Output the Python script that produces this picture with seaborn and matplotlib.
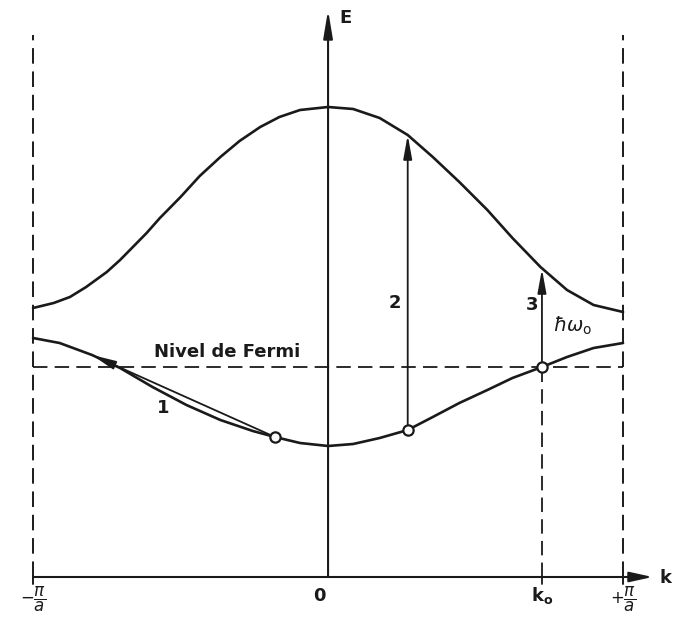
import matplotlib
matplotlib.use("Agg")
import matplotlib.pyplot as plt
import seaborn as sns
import pandas as pd

# Band structure E(k) in the first Brillouin zone, k in units of pi/a
k_upper = [-1.0, -0.93, -0.875, -0.82, -0.75, -0.705, -0.615, -0.57, -0.50, -0.435,
           -0.365, -0.30, -0.23, -0.165, -0.095, 0.0, 0.085, 0.175, 0.27, 0.355,
           0.445, 0.54, 0.625, 0.72, 0.81, 0.90, 1.0]
e_upper = [2.69, 2.74, 2.80, 2.90, 3.05, 3.17, 3.44, 3.59, 3.80, 4.01,
           4.20, 4.36, 4.50, 4.60, 4.67, 4.70, 4.68, 4.59, 4.42, 4.20,
           3.95, 3.67, 3.39, 3.10, 2.87, 2.72, 2.65]

k_lower = [-1.0, -0.91, -0.80, -0.705, -0.595, -0.48, -0.365, -0.255, -0.18, -0.095,
           0.0, 0.085, 0.175, 0.27, 0.355, 0.445, 0.54, 0.625, 0.725, 0.81, 0.90, 1.0]
e_lower = [2.39, 2.34, 2.22, 2.09, 1.90, 1.72, 1.57, 1.46, 1.40, 1.34,
           1.31, 1.33, 1.39, 1.47, 1.60, 1.74, 1.87, 1.99, 2.10, 2.20, 2.29, 2.34]

# Occupied states marked on the lower band
k_states = [-0.18, 0.27, 0.725]
e_states = [1.40, 1.47, 2.10]

fermi_level = 2.10
k0 = 0.725
zone_edges = [-1.0, 1.0]

# Transitions: (start k, start E, end k, end E)
trans_1 = (-0.18, 1.40, -0.80, 2.22)
trans_2 = (0.27, 1.47, 0.27, 4.42)
trans_3 = (0.725, 2.10, 0.725, 3.08)

tick_pos = [-1.0, 0.0, k0, 1.0]
tick_text = [r"$-\dfrac{\pi}{a}$", "0", r"k$_\mathregular{o}$", r"$+\dfrac{\pi}{a}$"]

sns.set_style("white")
plt.rcParams["font.family"] = ["DejaVu Sans"]
plt.rcParams["mathtext.fontset"] = "dejavusans"

fig = plt.figure(figsize=(6.75, 6.22), dpi=100)
ax = fig.add_axes([0, 0, 1, 1])
ax.set_xlim(-1.112, 1.176)
ax.set_ylim(-0.45, 5.77)
ax.axis("off")

ink = "#1a1a1a"

bands = pd.concat([
    pd.DataFrame({"k": k_upper, "E": e_upper, "band": "upper"}),
    pd.DataFrame({"k": k_lower, "E": e_lower, "band": "lower"}),
])
sns.lineplot(data=bands, x="k", y="E", units="band", estimator=None, sort=False,
             color=ink, lw=1.9, ax=ax, legend=False,
             solid_joinstyle="round", solid_capstyle="round")

dash = (0, (8, 4))
# zone boundaries
for kb in zone_edges:
    ax.plot([kb, kb], [0, 5.42], color=ink, lw=1.4, linestyle=dash)
    ax.plot([kb, kb], [0, -0.07], color=ink, lw=1.4)
# Fermi level
ax.plot([-1.0, 1.0], [fermi_level, fermi_level], color=ink, lw=1.3, linestyle=dash)
# k0 guide
ax.plot([k0, k0], [0, fermi_level], color=ink, lw=1.3, linestyle=dash)
ax.plot([k0, k0], [0, -0.07], color=ink, lw=1.3)

# coordinate axes
ax.annotate("", xy=(1.10, 0), xytext=(-1.0, 0),
            arrowprops=dict(arrowstyle="-|>,head_length=1.0,head_width=0.22",
                            color=ink, lw=1.5, mutation_scale=14,
                            shrinkA=0, shrinkB=0))
ax.annotate("", xy=(0.0, 5.67), xytext=(0.0, 0.0),
            arrowprops=dict(arrowstyle="-|>,head_length=1.2,head_width=0.2",
                            color=ink, lw=1.5, mutation_scale=14,
                            shrinkA=0, shrinkB=0))

# transitions
for (ks, es, ke, ee) in (trans_1, trans_2, trans_3):
    ax.annotate("", xy=(ke, ee), xytext=(ks, es),
                arrowprops=dict(arrowstyle="-|>,head_length=1.1,head_width=0.2",
                                color=ink, lw=1.3, mutation_scale=13,
                                shrinkA=4, shrinkB=0))

sns.scatterplot(x=k_states, y=e_states, s=55, facecolor="white", edgecolor=ink,
                linewidth=1.6, zorder=5, ax=ax, legend=False)

tkw = dict(color=ink, fontsize=13, fontweight="bold")
ax.text(0.04, 5.59, "E", ha="left", va="center", **tkw)
ax.text(1.125, -0.01, "k", ha="left", va="center", **tkw)
ax.text(-0.59, 2.25, "Nivel de Fermi", ha="left", va="center", **tkw)
ax.text(-0.56, 1.69, "1", ha="center", va="center", **tkw)
ax.text(0.225, 2.74, "2", ha="center", va="center", **tkw)
ax.text(0.69, 2.72, "3", ha="center", va="center", **tkw)
ax.text(0.83, 2.51, r"$\hbar\omega_\mathregular{o}$", ha="center", va="center",
        color=ink, fontsize=14)

for pos, lab in zip(tick_pos, tick_text):
    off = -0.03 if pos == 0.0 else 0.0
    frac = "frac" in lab
    ax.text(pos + off, -0.22 if frac else -0.19, lab, ha="center", va="center",
            color=ink, fontsize=12 if frac else 13, fontweight="bold")

fig.savefig("out.png", dpi=100, facecolor="white")
